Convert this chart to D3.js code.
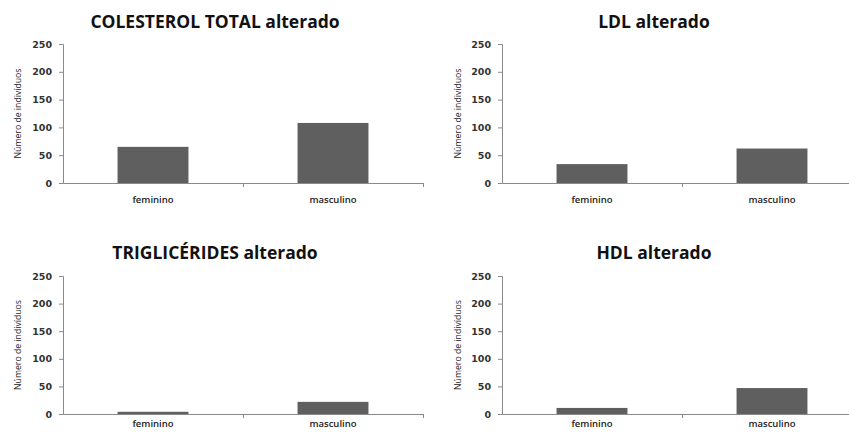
<!DOCTYPE html>
<html><head><meta charset="utf-8">
<script src="https://cdn.jsdelivr.net/npm/d3@7"></script>
<style>body{margin:0;background:#fff}svg{display:block}</style>
</head><body>
<svg id="c" width="849" height="432"></svg>
<script>
const categories = ["feminino", "masculino"];
const titles = ["COLESTEROL TOTAL alterado", "LDL alterado", "TRIGLICÉRIDES alterado", "HDL alterado"];
const colesterolTotal = [65, 108];
const ldl = [34, 62];
const triglicerides = [4, 22];
const hdl = [11, 47];
const yTicks = [0, 50, 100, 150, 200, 250];
const yLabel = "Número de indivíduos";

const series = [colesterolTotal, ldl, triglicerides, hdl];
const svg = d3.select("#c");

// layout per panel
const colAxisX = [63, 502];
const rowTop = [44, 276];
const rowZero = [183, 414];
const plotW = 360;
const titleY = [28, 259];
const titleX = [215, 654];
const labelX = [17, 457];
const catPad = [13, 6];

series.forEach((vals, i) => {
  const col = i % 2, row = Math.floor(i / 2);
  const x0 = colAxisX[col], top = rowTop[row], zero = rowZero[row];
  const g = svg.append("g");
  const y = d3.scaleLinear().domain([0, 250]).range([zero, top]);
  const xb = d3.scaleBand().domain(categories).range([x0, x0 + plotW]).paddingInner(0.606).paddingOuter(0.303);
  const xl = d3.scaleLinear().domain([0, 2]).range([x0, x0 + plotW]);

  // bars
  g.selectAll("rect").data(vals).join("rect")
    .attr("x", (d, j) => xb(categories[j]))
    .attr("width", xb.bandwidth())
    .attr("y", d => y(d))
    .attr("height", d => zero - y(d))
    .attr("fill", "#5f5f5f");

  // y axis
  const ya = g.append("g").attr("transform", `translate(${x0},0)`)
    .call(d3.axisLeft(y).tickValues(yTicks).tickSize(4).tickPadding(7));
  ya.selectAll("path,line").attr("stroke", "#8a8a8a");
  ya.selectAll("text").attr("font-family", "DejaVu Sans").attr("font-size", 9.5).attr("font-weight", "bold").attr("fill", "#333");

  // x axis boundary ticks
  const xa = g.append("g").attr("transform", `translate(0,${zero})`)
    .call(d3.axisBottom(xl).tickValues([1, 2]).tickSize(4).tickSizeOuter(0).tickFormat(""));
  xa.selectAll("path,line").attr("stroke", "#8a8a8a");

  // category labels
  const xc = g.append("g").attr("transform", `translate(0,${zero})`)
    .call(d3.axisBottom(xb).tickSize(0).tickPadding(catPad[row]));
  xc.select(".domain").remove();
  xc.selectAll("text").attr("font-family", "Open Sans").attr("font-size", 9.5).attr("font-weight", 600).attr("fill", "#222");

  // title
  g.append("text").attr("x", titleX[col]).attr("y", titleY[row])
    .attr("text-anchor", "middle").attr("font-family", "Open Sans").attr("font-weight", "bold")
    .attr("font-size", 17.5).attr("fill", "#111").text(titles[i]);

  // y label
  g.append("text").attr("transform", `translate(${labelX[col]},${(top + zero) / 2}) rotate(-90)`)
    .attr("text-anchor", "middle").attr("dominant-baseline", "central")
    .attr("font-family", "Open Sans").attr("font-size", 9).attr("fill", "#222")
    .attr("textLength", 90).attr("lengthAdjust", "spacingAndGlyphs").text(yLabel);
});
</script>
</body></html>
